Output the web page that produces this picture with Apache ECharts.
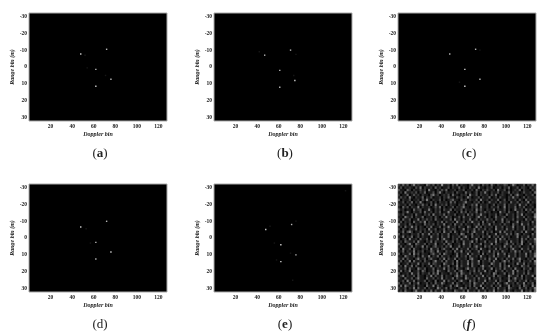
<!DOCTYPE html>
<html lang="en">
<head>
<meta charset="UTF-8">
<title>Range-Doppler maps</title>
<style>
    html, body { margin: 0; padding: 0; background: #fff; }
    #main { width: 550px; height: 334px; }
</style>
</head>
<body>
<div id="main"></div>
<script src="https://cdn.jsdelivr.net/npm/echarts@6/dist/echarts.min.js"></script>
<script>
// [doppler bin, range bin, brightness 0-9]
var pointsA = [[48, -7.7, 9], [72, -10.5, 8], [62, 1.4, 8], [76, 7.3, 8], [62, 11.4, 9], [54, 0.5, 1], [71, 5, 1], [52, -7, 1]];
var pointsB = [[47, -7, 8], [71, -10, 8], [61, 2, 8], [75, 8, 9], [61, 12, 8], [42, -9, 1], [76, -7.5, 1], [74, 5, 1]];
var pointsC = [[48, -7.7, 8], [72, -10.5, 8], [62, 1.4, 9], [76, 7.3, 8], [62, 11.4, 9], [76, -10, 1], [57, 9, 1]];
var pointsD = [[48, -6.5, 9], [72, -9.9, 8], [62, 2.6, 8], [76, 8.3, 9], [62, 12.4, 8], [53, -5.5, 1], [57, 3, 1]];
var pointsE = [[48, -5, 9], [72, -8, 8], [62, 4, 9], [76, 10, 8], [62, 14, 9], [52, -7, 1], [76, -10, 1], [56, 3, 1], [71, 9, 1], [58, 13, 1], [122, -28, 1], [73, 25, 1]];

// panel (f), rows top to bottom, brightness 0-9
// hand typed to match the overall tone and grain of the noise, the real cells
// are too blurred to read so these are NOT cell by cell values from the picture
var noiseRows = [
    "2141302512110421302161120314021102511203120410211320152011302141",
    "1302121031502112041201130211402103120511021301120214011302210312",
    "3110420211312051102131401120213011204102131120511302012140211031",
    "1205112130214011302510211203110412013021510211302114021201311204",
    "2011401312021103512012130411021205113021120314012101302511021130",
    "1312051021140213011202141103120152011302114012031102151201302112",
    "4021130112031510211302012411031202113051120211401302112031041211",
    "1130214021510113020211204130112511021302014112031210411302115021",
    "2112031102141203051121302110214011315021120130211402112051130210",
    "1041302115021120131402011302125110213041120211301502114021301120",
    "3120110412301151021203114021130211205131021140211302015112041302",
    "1021510211304112021301151102041302114021312011051203110412102131",
    "2130112041102130511214021130112041302151102113021041120315021104",
    "1105213021140112031021512011304112102511302014112301120411302115",
    "2041130115021312041102113051202114013021141203115021130211041202",
    "1302120411315021102140311205113021511204021130114023011502112041",
    "5112031021104121302115012041130211021403115021120311041205113021",
    "1204115130210214011302151120311042015130211204113021150211402113",
    "2031021140212051130114021320115021140311302105112041130211402151",
    "1140352011302114021205113041021130251114021301150411202113051102",
    "3021102113041150213021140112053011402112030115021141302510211041",
    "1150214013021105112031140211302510411203115021304112011502114021",
    "2013051120411302114025110213041120115031020114051302111204130215",
    "1204211305110214031120511302104112503011402115021130411205102113",
    "3110251042113021150113042011205113021140211503110241130215011402",
    "1302114021150310241120315011402113025110413021120511402130112041",
    "2051130411021205113024110315021140213051102114031120251104113021",
    "1140211502130114205110312041150213011402115031204110215130211402",
    "3021140513021102411305211014021150311204021130511402113021150214",
    "1105211302041150214031120115021304112051102140311205113021140215",
    "2140311025113024110215031140211203511021304115012031140251102130",
    "1302150411203110251130411205021140311502113041102513021140211305",
    "4011302115021140321105211304021150411302110521140301120511402113",
    "1205114031020115021302140115031120411025113021140315021104213011",
    "2113041105213011402115031204110251130214011502130411205110311402",
    "1402150113042011305211041130251102140311502104113021150411203102",
    "3011205114021130415021103114052113021140112053011402150211304112",
    "1250211304110215031140211025130411203115021140321105211304021150",
    "2104113025110411302150211403110521130411205021130114025113021104",
    "1130511402113021040115031120251104130211502114031105213021140211",
    "3021140215011302041152011403102113052114021130410251120311502140",
    "1405211302110411503120114025110213041150211302140115021130421051",
    "2113021504113021105211403110251302114015021130411205211041130215",
    "1204110251130214031150211042113051120411302150211403102115021304"
];

var xTicks = [20, 40, 60, 80, 100, 120];
var yTicks = [-30, -20, -10, 0, 10, 20, 30];
var captions = ["a", "b", "c", "d", "e", "f"];
var allPoints = [pointsA, pointsB, pointsC, pointsD, pointsE];

var noiseData = [];
noiseRows.forEach(function (row, r) {
    for (var c = 0; c < row.length; c++) {
        noiseData.push([(c + 0.5) * 128 / row.length, -32 + (r + 0.5) * 64 / noiseRows.length, +row[c]]);
    }
});

var lefts = [29, 214, 398];
var tops = [13, 184];
var tickFont = { fontFamily: "Liberation Serif", fontSize: 5.5, fontWeight: "bold", color: "#222" };
var nameFont = { fontFamily: "Liberation Serif", fontSize: 6, fontWeight: "bold", fontStyle: "italic", color: "#222" };

var grids = [], xAxes = [], yAxes = [], series = [], titles = [];
captions.forEach(function (cap, i) {
    var left = lefts[i % 3], top = tops[i < 3 ? 0 : 1];
    grids.push({
        left: left, top: top, width: 138, height: 108, show: true,
        backgroundColor: i == 5 ? "#1c1c1c" : "#000", borderColor: "#aaa", borderWidth: 1
    });
    xAxes.push({
        type: "value", gridIndex: i, min: 0, max: 128, splitLine: { show: false },
        name: "Doppler bin", nameLocation: "middle", nameGap: 10, nameTextStyle: nameFont,
        axisLine: { show: false }, axisTick: { show: false },
        axisLabel: Object.assign({ margin: 3, customValues: xTicks }, tickFont)
    });
    yAxes.push({
        type: "value", gridIndex: i, min: -32, max: 32, inverse: true, splitLine: { show: false },
        name: "Range bin (m)", nameLocation: "middle", nameGap: 13, nameTextStyle: nameFont,
        axisLine: { show: false }, axisTick: { show: false },
        axisLabel: Object.assign({ margin: 2, customValues: yTicks }, tickFont)
    });
    series.push({
        type: "scatter", xAxisIndex: i, yAxisIndex: i, symbol: "rect",
        symbolSize: i == 5 ? [2.3, 2.6] : 1.4, silent: true, animation: false,
        data: i == 5 ? noiseData : allPoints[i]
    });
    titles.push({
        text: "({b|" + cap + "})", left: left + 66, top: top + 129, textAlign: "center",
        textStyle: {
            fontFamily: "Liberation Serif", fontSize: 13, fontWeight: "normal", color: "#222",
            rich: { b: { fontFamily: "Liberation Serif", fontSize: 13, fontWeight: i == 3 ? "normal" : "bold", fontStyle: i == 5 ? "italic" : "normal", color: "#222" } }
        }
    });
});

var myChart = echarts.init(document.getElementById("main"), null, { renderer: "canvas" });
myChart.setOption({
    backgroundColor: "#fff",
    animation: false,
    title: titles,
    grid: grids,
    xAxis: xAxes,
    yAxis: yAxes,
    visualMap: { show: false, min: 0, max: 9, dimension: 2, seriesIndex: [0, 1, 2, 3, 4, 5], inRange: { color: ["#000", "#fff"] } },
    series: series
});
</script>
</body>
</html>
